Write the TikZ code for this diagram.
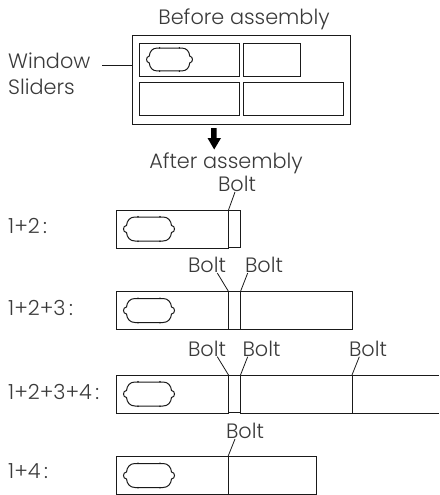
\documentclass[tikz,border=0pt]{standalone}
\usepackage{fontspec}
\setmainfont{Poppins}[UprightFont=* Light]
\definecolor{ink}{HTML}{1A1A1A}
\definecolor{txt}{HTML}{3A3A3A}
\tikzset{
  part/.style={draw=ink,line width=0.9pt,anchor=north west,inner sep=0pt,outer sep=0pt},
  lab/.style={anchor=base,inner sep=0pt,text=txt,font=\fontsize{20.8}{21}\selectfont},
  labl/.style={lab,anchor=base west},
  leader/.style={draw=ink,line width=0.8pt},
  win/.pic={
    \draw[ink,line width=1pt] (-14,-12) -- (14,-12)
      .. controls (19,-12) and (22,-8.5) .. (22.5,-3.5)
      .. controls (26.5,-3.5) and (26.5,3.5) .. (22.5,3.5)
      .. controls (22,8.5) and (19,12) .. (14,12)
      -- (-14,12)
      .. controls (-19,12) and (-22,8.5) .. (-22.5,3.5)
      .. controls (-26.5,3.5) and (-26.5,-3.5) .. (-22.5,-3.5)
      .. controls (-22,-8.5) and (-19,-12) .. (-14,-12) -- cycle;
    \fill[ink] (-11,-12.3) circle (0.9) (11,-12.3) circle (0.9) (-11,12.3) circle (0.9) (11,12.3) circle (0.9);
  }
}
\newcommand{\partbox}[6][]{\node[part,minimum width=#5pt,minimum height=#6pt] (#2) at (#3,#4) {};}
\begin{document}
\begin{tikzpicture}[x=1pt,y=-1pt]
\useasboundingbox (0,0) rectangle (439,495);
% before assembly
\node[lab] (before) at (244,25) {Before assembly};
\partbox{outer}{132}{35}{218}{89}
\partbox{sa}{139.5}{43}{99.5}{33}
\partbox{sb}{243}{43}{57}{33}
\partbox{sc}{139.5}{82.5}{100}{33}
\partbox{sd}{243}{82.5}{100}{33}
\pic[xscale=0.9,yscale=0.95] at (169.5,59.5) {win};
\node[labl] (window) at (8,69) {Window};
\node[labl] (sliders) at (8,94) {Sliders};
\coordinate (wl) at (102,65);
\draw[leader] (wl) -- (wl -| outer.west);
% arrow
\fill[black] (211,128) -- (216.5,128) -- (216.5,138) -- (221,138) -- (214.2,149.5) -- (207.5,138) -- (211,138) -- cycle;
\node[lab] (after) at (226,168) {After assembly};
% row 1
\node[labl] (r1) at (8,233) {1+2\,:};
\partbox{a1}{116.5}{210}{112}{38}
\partbox{b1}{228.5}{210}{12}{37.5}
\pic at (149,229) {win};
\node[lab] (bolt1) at (237,191) {Bolt};
\coordinate (l1) at (235,192);
\draw[leader] (l1) -- (a1.north east);
% row 2
\node[labl] (r2) at (8,315) {1+2+3\,:};
\partbox{a2}{116.5}{291.5}{112}{38}
\partbox{b2}{228.5}{291.5}{12}{37.5}
\partbox{c2}{240.5}{291.5}{112}{38}
\pic at (149,310.5) {win};
\node[lab] (bolt2a) at (207,272) {Bolt};
\node[lab] (bolt2b) at (264,272) {Bolt};
\coordinate (l2a) at (217.3,273);
\coordinate (l2b) at (247.7,273);
\draw[leader] (l2a) -- (a2.north east);
\draw[leader] (l2b) -- (c2.north west);
% row 3
\node[labl] (r3) at (8,399) {1+2+3+4\,:};
\partbox{a3}{116.5}{375}{112}{38}
\partbox{b3}{228.5}{375}{12}{37.5}
\partbox{c3}{240.5}{375}{111.5}{38}
\draw[draw=ink,line width=0.9pt] (c3.north east) -- (439,375) (c3.south east) -- (439,413);
\pic at (149,394) {win};
\node[lab] (bolt3a) at (207,356) {Bolt};
\node[lab] (bolt3b) at (261.5,356) {Bolt};
\node[lab] (bolt3c) at (368,356) {Bolt};
\coordinate (l3a) at (217.3,356.7);
\coordinate (l3b) at (247.7,356.7);
\coordinate (l3c) at (359.3,356.7);
\draw[leader] (l3a) -- (a3.north east);
\draw[leader] (l3b) -- (c3.north west);
\draw[leader] (l3c) -- (c3.north east);
% row 4
\node[labl] (r4) at (8,478) {1+4\,:};
\partbox{a4}{116.5}{456.5}{111.5}{37.5}
\partbox{d4}{228}{456.5}{88.5}{37.5}
\pic at (149,475.5) {win};
\node[lab] (bolt4) at (245,438) {Bolt};
\coordinate (l4) at (235,439);
\draw[leader] (l4) -- (a4.north east);
\end{tikzpicture}
\end{document}
